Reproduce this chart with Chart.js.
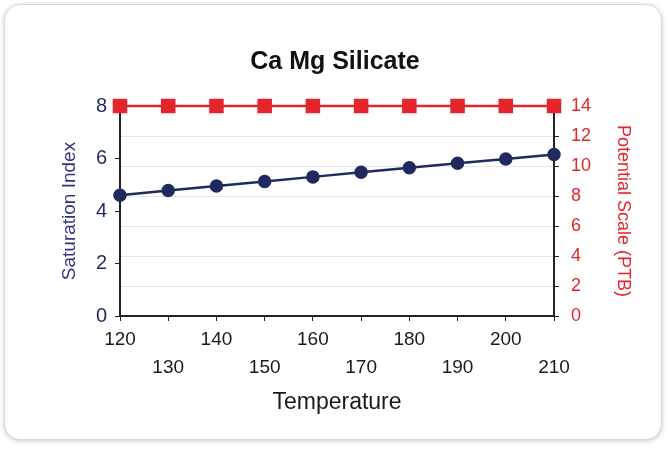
<!DOCTYPE html>
<html>
<head>
<meta charset="utf-8">
<script src="https://cdn.jsdelivr.net/npm/chart.js@4"></script>
<style>
  html, body { margin: 0; padding: 0; background: #fff; }
  body { width: 670px; height: 449px; position: relative; overflow: hidden; }
  .card { position: absolute; left: 4px; top: 4px; width: 656px; height: 434px;
          background: #fff; border-radius: 16px; border: 1px solid #d8d8d8;
          box-shadow: 0 1px 5px rgba(0,0,0,0.22); }
  #wrap { position: absolute; left: 0; top: 0; width: 670px; height: 449px; }
</style>
</head>
<body>
<div class="card"></div>
<div id="wrap"><canvas id="myChart" width="670" height="449"></canvas></div>
<script>
// data
const temperatures = [120, 130, 140, 150, 160, 170, 180, 190, 200, 210];
const saturationIndex = [4.6, 4.78, 4.95, 5.12, 5.3, 5.48, 5.65, 5.82, 5.98, 6.15];
const potentialScale = [14, 14, 14, 14, 14, 14, 14, 14, 14, 14];

const navy = '#1f2a5e';
const red = '#e4262c';
const axisDark = '#222';
const fontFamily = '"Liberation Sans", Arial, sans-serif';

const ctx = document.getElementById('myChart');
const myChart = new Chart(ctx, {
  type: 'line',
  data: {
    labels: temperatures.map(String),
    datasets: [{
      label: 'Saturation Index',
      data: saturationIndex,
      yAxisID: 'y',
      borderColor: navy,
      backgroundColor: navy,
      borderWidth: 2.5,
      pointRadius: 5.5,
      pointStyle: 'circle',
      clip: false,
      order: 2
    }, {
      label: 'Potential Scale (PTB)',
      data: potentialScale,
      yAxisID: 'y2',
      borderColor: red,
      backgroundColor: red,
      borderWidth: 2.5,
      pointRadius: 8.5,
      pointStyle: 'rect',
      clip: false,
      order: 1
    }]
  },
  options: {
    responsive: false,
    animation: false,
    layout: { padding: { left: 0, right: 0, top: 0, bottom: 20 } },
    plugins: {
      legend: { display: false },
      tooltip: { enabled: false },
      title: {
        display: true,
        text: 'Ca Mg Silicate',
        color: '#111',
        font: { family: fontFamily, size: 25, weight: 'bold', lineHeight: 1.2 },
        padding: { top: 47, bottom: 29 }
      }
    },
    scales: {
      x: {
        offset: false,
        grid: { drawOnChartArea: false, tickLength: 5, tickColor: axisDark },
        border: { color: axisDark, width: 2 },
        ticks: {
          autoSkip: false,
          maxRotation: 0,
          padding: 5,
          color: '#1a1a1a',
          font: { family: fontFamily, size: 19, lineHeight: 1.47 },
          callback: (v, i) => i % 2 ? ['', String(temperatures[i])] : [String(temperatures[i]), '']
        },
        title: {
          display: true,
          text: 'Temperature',
          color: '#1a1a1a',
          font: { family: fontFamily, size: 23, lineHeight: 1.2 },
          padding: { top: 0, bottom: 13 }
        },
        afterFit: s => { s.height = 113; }
      },
      y: {
        position: 'left',
        min: 0, max: 8,
        ticks: { stepSize: 2, padding: 8, color: navy, font: { family: fontFamily, size: 20 } },
        grid: { drawOnChartArea: false, tickLength: 5, tickColor: axisDark },
        border: { color: axisDark, width: 2 },
        title: {
          display: true,
          text: 'Saturation Index',
          color: '#2e3680',
          font: { family: fontFamily, size: 19, lineHeight: 1.2 },
          padding: { top: 58, bottom: 0 }
        },
        afterFit: s => { s.width = 120; }
      },
      y2: {
        position: 'right',
        min: 0, max: 14,
        ticks: { stepSize: 2, padding: 12, color: red, font: { family: fontFamily, size: 18 } },
        grid: { color: '#e6e6e6', lineWidth: 1, tickLength: 5, tickColor: axisDark },
        border: { color: axisDark, width: 2 },
        title: {
          display: true,
          text: 'Potential Scale (PTB)',
          color: red,
          font: { family: fontFamily, size: 18, lineHeight: 1.2 },
          padding: { top: 36, bottom: 0 }
        },
        afterFit: s => { s.width = 116; }
      }
    }
  }
});
</script>
</body>
</html>
